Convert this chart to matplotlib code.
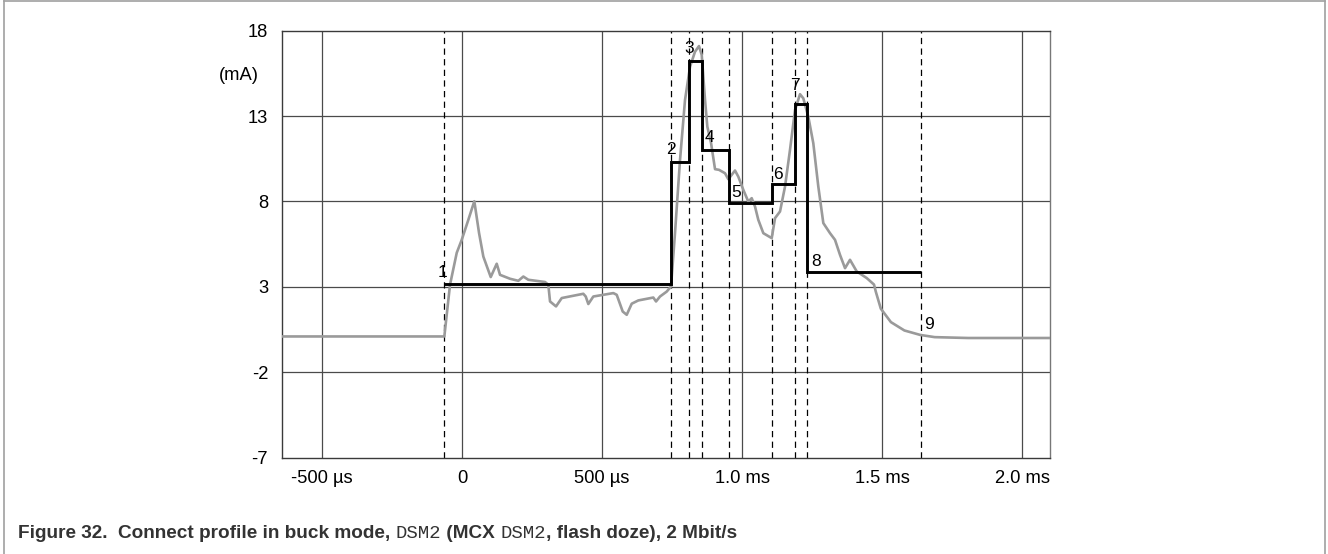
import matplotlib
matplotlib.use("Agg")
import matplotlib.pyplot as plt
from matplotlib.lines import Line2D

# Measured supply current (gray trace): time in microseconds, current in mA
trace_t = [-643, -63.2, -42.9, -18.9, -1.1, 22.5, 43.9, 60.7, 76.1, 102.5, 123.9,
           135.7, 171.4, 201.1, 219.0, 236.8, 296.4, 308.2, 314.3, 335.7, 356.1,
           433.2, 441.8, 451.1, 468.9, 540.4, 552.5, 573.9, 588.2, 606.1, 629.6,
           683.2, 692.9, 707.1, 731.1, 746.4, 760.7, 778.6, 796.4, 814.3, 832.1,
           846.4, 856.1, 867.9, 876.1, 889.3, 903.6, 917.9, 939.3, 951.1, 975.0,
           986.8, 1004.6, 1022.5, 1034.6, 1046.4, 1058.2, 1076.1, 1106.1, 1117.9,
           1135.7, 1153.6, 1171.4, 1189.3, 1207.1, 1218.9, 1236.8, 1254.6, 1272.5,
           1290.4, 1314.3, 1332.1, 1350.0, 1367.9, 1385.7, 1409.6, 1445.4, 1471.4,
           1477.9, 1495.7, 1531.8, 1580.0, 1636.4, 1688.2, 1807.0, 2100.0]
trace_ma = [0.09, 0.09, 3.12, 4.99, 5.75, 6.92, 8.01, 6.16, 4.77, 3.57, 4.35,
            3.70, 3.47, 3.35, 3.60, 3.41, 3.28, 3.12, 2.14, 1.85, 2.34,
            2.59, 2.43, 1.99, 2.43, 2.63, 2.53, 1.55, 1.36, 2.01, 2.20,
            2.37, 2.14, 2.43, 2.72, 3.02, 6.16, 10.43, 13.94, 15.89, 16.77,
            17.10, 16.58, 13.94, 12.38, 11.43, 9.89, 9.85, 9.65, 9.30, 9.81,
            9.45, 8.68, 7.99, 8.19, 7.70, 6.92, 6.14, 5.85, 7.02,
            7.41, 8.87, 11.02, 13.36, 14.28, 14.04, 12.96, 11.41, 8.87,
            6.73, 6.14, 5.75, 4.87, 4.09, 4.58, 3.90, 3.51, 3.13,
            2.71, 1.72, 0.93, 0.44, 0.18, 0.05, 0.00, 0.00]

# Phase boundaries (µs) and average current per phase (mA)
phase_edges = [-63, 746, 812, 858, 954, 1107, 1189, 1231, 1638]
phase_ma = [3.18, 10.30, 16.22, 11.03, 7.92, 9.01, 13.69, 3.86]
phase_labels = ["1", "2", "3", "4", "5", "6", "7", "8", "9"]

x_ticks = [-500, 0, 500, 1000, 1500, 2000]
x_tick_labels = ["-500 µs", "0", "500 µs", "1.0 ms", "1.5 ms", "2.0 ms"]
y_ticks = [-7, -2, 3, 8, 13, 18]
y_tick_labels = ["-7", "-2", "3", "8", "13", "18"]

W, H = 1328, 554
fig = plt.figure(figsize=(W / 100, H / 100), dpi=100)
fig.patch.set_facecolor("white")

ax = fig.add_axes([282 / W, 1 - 457.5 / H, (1050 - 282) / W, (457.5 - 30.7) / H])
ax.set_xlim(-643, 2100)
ax.set_ylim(-7, 18)

grid_color = "#4a4a4a"
for xv in x_ticks:
    ax.axvline(xv, color=grid_color, lw=0.9, zorder=1)
for yv in y_ticks[1:-1]:
    ax.axhline(yv, color=grid_color, lw=0.9, zorder=1)

for e in phase_edges:
    ax.axvline(e, color="black", lw=0.9, ls=(0, (5, 3.5)), zorder=2)

ax.plot(trace_t, trace_ma, color="#9a9a9a", lw=1.9, zorder=3,
        solid_joinstyle="round", solid_capstyle="round")
ax.stairs(phase_ma, phase_edges, baseline=None, color="black", lw=2.1, zorder=4)

# Phase numbers, placed relative to the start of each phase
label_offsets = [(-2, 11), (0, 13), (0, 13), (7, 12), (7, 10), (6, 10),
                 (0, 19), (9, 10.6), (8, 13.5)]
anchor_levels = phase_ma + [0.0]
for lab, e, lv, off in zip(phase_labels, phase_edges, anchor_levels, label_offsets):
    ax.annotate(lab, (e, lv), xytext=off, textcoords="offset pixels",
                ha="center", va="center", fontsize=12.5, family="Liberation Sans",
                color="black", zorder=5)

for s in ax.spines.values():
    s.set_color("#3a3a3a")
    s.set_linewidth(1.0)
ax.spines["right"].set_color("#777777")

ax.set_xticks(x_ticks)
ax.set_xticklabels(x_tick_labels)
ax.set_yticks(y_ticks)
ax.set_yticklabels(y_tick_labels)
ax.tick_params(length=0, labelsize=13.2)
ax.tick_params(axis="x", pad=9)
ax.tick_params(axis="y", pad=10)
for t in ax.get_xticklabels() + ax.get_yticklabels():
    t.set_family("Liberation Sans")

fig.text(239 / W, 1 - 75 / H, "(mA)", ha="center", va="center",
         fontsize=13.2, family="Liberation Sans")

# Outer frame (left, top, right)
frame_kw = dict(color="#a0a0a0", lw=1.2, transform=None)
fig.add_artist(Line2D([4, 4], [0, H - 1], **frame_kw))
fig.add_artist(Line2D([4, W - 3], [H - 1, H - 1], **frame_kw))
fig.add_artist(Line2D([W - 3, W - 3], [0, H - 1], **frame_kw))

# Caption with monospace register names
pieces = [("Figure 32.  Connect profile in buck mode, ", "sans"),
          ("DSM2", "mono"),
          (" (MCX ", "sans"),
          ("DSM2", "mono"),
          (", flash doze), 2 Mbit/s", "sans")]
renderer = fig.canvas.get_renderer()
x = 18
y = H - 533
for txt, kind in pieces:
    if kind == "sans":
        t = fig.text(x, y, txt, transform=None, ha="left", va="center",
                     fontsize=13.7, fontweight="bold", family="Liberation Sans",
                     color="#333333")
    else:
        t = fig.text(x, y, txt, transform=None, ha="left", va="center",
                     fontsize=13.7, family="Liberation Mono", color="#333333")
    bb = t.get_window_extent(renderer)
    x = bb.x1

fig.savefig("out.png", dpi=100)
